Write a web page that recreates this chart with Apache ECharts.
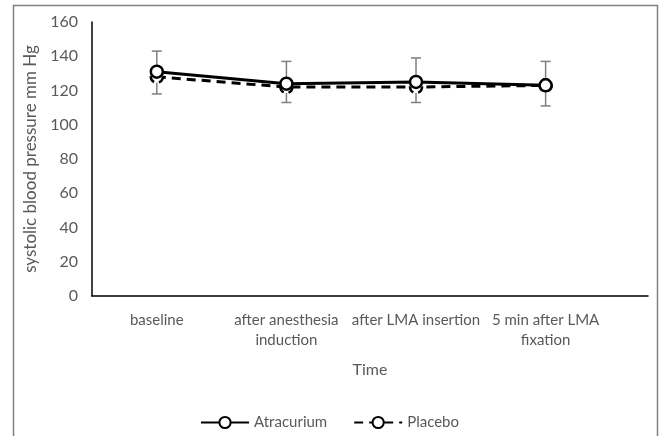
<!DOCTYPE html>
<html>
<head>
<meta charset="utf-8">
<script src="https://cdn.jsdelivr.net/npm/echarts@6/dist/echarts.min.js"></script>
<style>
    html, body { margin: 0; padding: 0; background: #fff; }
    #chart { width: 659px; height: 436px; }
</style>
</head>
<body>
<div id="chart"></div>
<script>
    // values
    const categories = ['baseline', 'after anesthesia\ninduction', 'after LMA insertion', '5 min after LMA\nfixation']
    const atracurium = [131, 124, 125, 123]
    const placebo = [128, 122, 122, 123]
    const errLow = [118, 113, 113, 111]
    const errHigh = [143, 137, 139, 137]
    const yTicks = [0, 20, 40, 60, 80, 100, 120, 140, 160]

    const font = 'Lato, "Open Sans", sans-serif'
    const textColor = '#595959'

    const chart = echarts.init(document.getElementById('chart'), null, {renderer: 'canvas'})

    const toPoints = arr => arr.map((v, i) => [i, v])

    const option = {
        animation: false,
        textStyle: {fontFamily: font},
        graphic: [
            {
                type: 'polyline',
                silent: true,
                shape: {points: [[13.5, 440], [13.5, 5.5], [657.5, 5.5], [657.5, 440]]},
                style: {fill: null, stroke: '#808080', lineWidth: 1.5}
            }
        ],
        grid: {left: 92, right: 11, top: 22, bottom: 140},
        legend: {
            bottom: 1,
            left: 'center',
            itemWidth: 48,
            itemHeight: 14,
            itemGap: 26,
            textStyle: {fontFamily: font, fontSize: 15, color: textColor},
            data: ['Atracurium', 'Placebo']
        },
        xAxis: {
            type: 'value',
            min: -0.5,
            max: 3.79,
            name: 'Time',
            nameLocation: 'middle',
            nameGap: 66,
            nameTextStyle: {fontFamily: font, fontSize: 16, color: textColor},
            splitLine: {show: false},
            axisTick: {show: false},
            axisLine: {onZero: false, lineStyle: {color: '#000', width: 1.5}},
            axisLabel: {
                customValues: [0, 1, 2, 3],
                formatter: v => categories[v] || '',
                fontFamily: font,
                fontSize: 15,
                color: textColor,
                lineHeight: 20,
                margin: 14
            }
        },
        yAxis: {
            type: 'value',
            min: yTicks[0],
            max: yTicks[yTicks.length - 1],
            interval: yTicks[1] - yTicks[0],
            name: 'systolic blood pressure mm Hg',
            nameLocation: 'middle',
            nameGap: 51,
            nameTextStyle: {fontFamily: font, fontSize: 17, color: textColor},
            splitLine: {show: false},
            axisTick: {show: false},
            axisLine: {show: true, onZero: false, lineStyle: {color: '#000', width: 1.5}},
            axisLabel: {fontFamily: font, fontSize: 16, color: textColor, margin: 14}
        },
        series: [
            {
                name: 'errors',
                type: 'custom',
                silent: true,
                z: 1,
                encode: {x: 0, y: [1, 2]},
                data: errLow.map((lo, i) => [i, lo, errHigh[i]]),
                renderItem (params, api) {
                    const x = api.value(0)
                    const lo = api.coord([x, api.value(1)])
                    const hi = api.coord([x, api.value(2)])
                    const cap = 5
                    const style = {stroke: '#7f7f7f', lineWidth: 1.5}
                    return {
                        type: 'group',
                        children: [
                            {type: 'line', shape: {x1: lo[0], y1: lo[1], x2: hi[0], y2: hi[1]}, style},
                            {type: 'line', shape: {x1: lo[0] - cap, y1: lo[1], x2: lo[0] + cap, y2: lo[1]}, style},
                            {type: 'line', shape: {x1: hi[0] - cap, y1: hi[1], x2: hi[0] + cap, y2: hi[1]}, style}
                        ]
                    }
                }
            },
            {
                name: 'Placebo',
                type: 'line',
                z: 3,
                data: toPoints(placebo),
                symbol: 'circle',
                symbolSize: 12,
                lineStyle: {color: '#000', width: 3, type: [9, 6]},
                itemStyle: {color: '#fff', borderColor: '#000', borderWidth: 2.5, borderType: [7, 5]}
            },
            {
                name: 'Atracurium',
                type: 'line',
                z: 4,
                data: toPoints(atracurium),
                symbol: 'circle',
                symbolSize: 12,
                lineStyle: {color: '#000', width: 3},
                itemStyle: {color: '#fff', borderColor: '#000', borderWidth: 2.5}
            }
        ]
    }

    chart.setOption(option)
</script>
</body>
</html>
